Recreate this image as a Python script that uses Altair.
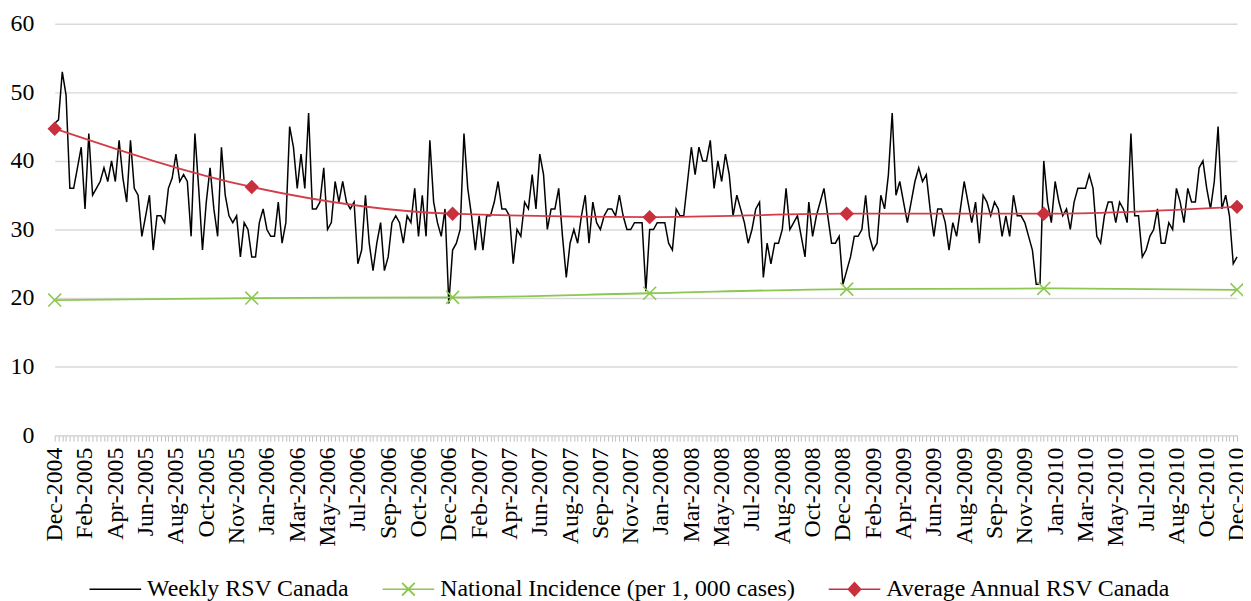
import altair as alt
import pandas as pd
import json

# ---------------- data ----------------
weekly_values = [
    45.5, 46, 53, 49.6, 36, 36, 39, 42, 33, 44,
    35, 36, 37, 39, 37, 40, 37, 43, 37.5, 34,
    43, 36, 35, 29, 32, 35, 27, 32, 32, 31,
    36, 37.5, 41, 37, 38, 37, 29, 44, 36, 27,
    34, 39, 33, 29, 42, 35, 32, 31, 32, 26,
    31, 30, 26, 26, 31, 33, 30, 29, 29, 34,
    28, 31, 45, 42, 36, 41, 36, 47, 33, 33,
    34, 39, 30, 31, 37, 34, 37, 34, 33, 34,
    25, 27, 35, 28, 24, 28, 31, 24, 26, 31,
    32, 31, 28, 32, 31, 36, 29, 35, 29, 43,
    34, 31, 29, 33, 19.2, 27, 28, 30, 44, 36,
    32, 27, 32, 27, 32, 32, 34, 37, 33, 33,
    32, 25, 30, 29, 34, 33, 38, 33, 41, 38,
    30, 33, 33, 36, 29, 23, 28, 30, 28, 32,
    35, 28, 34, 31, 30, 32, 33, 33, 32, 35,
    32, 30, 30, 31, 31, 31, 21, 30, 30, 31,
    31, 31, 28, 27, 33, 32, 32, 37, 42, 38,
    42, 40, 40, 43, 36, 40, 37, 41, 38, 32,
    35, 33, 31, 28, 30, 33, 34, 23, 28, 25,
    28, 28, 30, 36, 30, 31, 32, 29, 26, 34,
    29, 32, 34, 36, 32, 28, 28, 29, 22, 24,
    26, 29, 29, 30, 35, 29, 27, 28, 35, 33,
    38, 47, 35, 37, 34, 31, 34, 37, 39, 37,
    38, 33, 29, 33, 33, 31, 27, 31, 29, 33,
    37, 34, 31, 34, 28, 35, 34, 32, 34, 33,
    29, 32, 29, 35, 32, 32, 31, 29, 27, 22,
    22, 40, 34, 31, 37, 34, 32, 33, 30, 34,
    36, 36, 36, 38, 36, 29, 28, 32, 34, 34,
    31, 34, 33, 31, 44, 32, 32, 26, 27, 29,
    30, 33, 28, 28, 31, 30, 36, 34, 31, 36,
    34, 34, 39, 40, 36, 33, 37, 45, 33, 35,
    32, 25, 26,
]
week_index = list(range(len(weekly_values)))

tick_labels = [
    "Dec-2004", "Feb-2005", "Apr-2005", "Jun-2005", "Aug-2005", "Oct-2005",
    "Nov-2005", "Jan-2006", "Mar-2006", "May-2006", "Jul-2006", "Sep-2006",
    "Oct-2006", "Dec-2006", "Feb-2007", "Apr-2007", "Jun-2007", "Aug-2007",
    "Sep-2007", "Nov-2007", "Jan-2008", "Mar-2008", "May-2008", "Jul-2008",
    "Aug-2008", "Oct-2008", "Dec-2008", "Feb-2009", "Apr-2009", "Jun-2009",
    "Aug-2009", "Sep-2009", "Nov-2009", "Jan-2010", "Mar-2010", "May-2010",
    "Jul-2010", "Aug-2010", "Oct-2010", "Dec-2010",
]
label_step = 8

annual_index = [0, 52, 105, 157, 209, 261, 312]
avg_annual = [44.7, 36.2, 32.3, 31.8, 32.3, 32.3, 33.3]
national_incidence = [19.7, 20.0, 20.1, 20.7, 21.3, 21.4, 21.2]

series_names = [
    "Weekly RSV Canada",
    "National Incidence (per 1, 000 cases)",
    "Average Annual RSV Canada",
]
black = "#000000"
green = "#8cc751"
red_line = "#d33d49"
red_marker = "#c9303e"
grid_color = "#d9d9d9"
font = "Liberation Serif"

# ---------------- tables ----------------
weekly_df = pd.DataFrame({"week": week_index, "value": weekly_values})
nat_df = pd.DataFrame({"week": annual_index, "value": national_incidence})
avg_df = pd.DataFrame({"week": annual_index, "value": avg_annual})
legend_df = pd.DataFrame({"week": [0, 0, 0], "value": [0, 0, 0], "series": series_names})

# legend symbol paths (filled, in [-1, 1] box)
line_path = "M-1,-0.03L1,-0.03L1,0.03L-1,0.03Z"
x_path = (
    line_path
    + "M-0.27,-0.22L-0.22,-0.27L0.27,0.22L0.22,0.27Z"
    + "M-0.27,0.22L0.22,-0.27L0.27,-0.22L-0.22,0.27Z"
)
diamond_path = line_path + "M-0.28,0L0,-0.3L0.28,0L0,0.3Z"

label_expr = (
    f"datum.value % {label_step} === 0 ? "
    + json.dumps(tick_labels)
    + f"[datum.value / {label_step}] : ''"
)

x_enc = alt.X(
    "week:Q",
    scale=alt.Scale(domain=[0, len(weekly_values) - 1], nice=False, zero=False),
    axis=alt.Axis(
        values=week_index,
        labelExpr=label_expr,
        labelAngle=270,
        labelFont=font,
        labelFontSize=24,
        labelColor="black",
        labelPadding=6,
        labelOverlap=False,
        labelFlush=False,
        tickSize=6,
        tickColor="#bfbfbf",
        tickWidth=1,
        domainColor=grid_color,
        domainWidth=1.5,
        grid=False,
        title=None,
    ),
)
y_enc = alt.Y(
    "value:Q",
    scale=alt.Scale(domain=[0, 60], nice=False, zero=True),
    axis=alt.Axis(
        values=[0, 10, 20, 30, 40, 50, 60],
        grid=True,
        gridColor=grid_color,
        gridWidth=1.5,
        domain=False,
        ticks=False,
        labelPadding=21,
        labelFont=font,
        labelFontSize=24,
        labelColor="black",
        title=None,
    ),
)

weekly = alt.Chart(weekly_df).mark_line(color=black, strokeWidth=1.5).encode(x=x_enc, y=y_enc)
nat_line = alt.Chart(nat_df).mark_line(color=green, strokeWidth=1.8, interpolate="monotone").encode(x=x_enc, y=y_enc)
avg_line = alt.Chart(avg_df).mark_line(color=red_line, strokeWidth=1.8, interpolate="monotone").encode(x=x_enc, y=y_enc)
nat_pts = alt.Chart(nat_df).mark_point(
    shape="M-1,-1L1,1M-1,1L1,-1", size=169, filled=False, color=green, strokeWidth=1.6, opacity=1
).encode(x=x_enc, y=y_enc)
avg_pts = alt.Chart(avg_df).mark_point(
    shape="diamond", size=210, filled=True, color=red_marker, opacity=1
).encode(x=x_enc, y=y_enc)

leg = alt.Legend(
    title=None,
    orient="none",
    legendX=35,
    legendY=543,
    direction="horizontal",
    symbolSize=2704,
    symbolStrokeWidth=0,
    labelFont=font,
    labelFontSize=24,
    labelColor="black",
    labelOffset=6,
    columnPadding=33,
    padding=0,
    labelLimit=600,
)
legend_layer = alt.Chart(legend_df).mark_point(filled=True, opacity=1).encode(
    x=x_enc,
    y=y_enc,
    color=alt.Color(
        "series:N",
        scale=alt.Scale(domain=series_names, range=[black, green, red_marker]),
        legend=leg,
        sort=series_names,
    ),
    shape=alt.Shape(
        "series:N",
        scale=alt.Scale(domain=series_names, range=[line_path, x_path, diamond_path]),
        legend=leg,
        sort=series_names,
    ),
).transform_filter("false")

chart = (
    alt.layer(weekly, nat_line, avg_line, nat_pts, avg_pts, legend_layer)
    .properties(
        width=1190,
        height=414,
        autosize=alt.AutoSizeParams(type="none"),
        padding={"left": 47, "top": 14, "right": 6, "bottom": 165},
        background="white",
    )
    .configure_view(stroke=None)
)

chart.save("out.html", embed_options={"renderer": "svg", "actions": False})
